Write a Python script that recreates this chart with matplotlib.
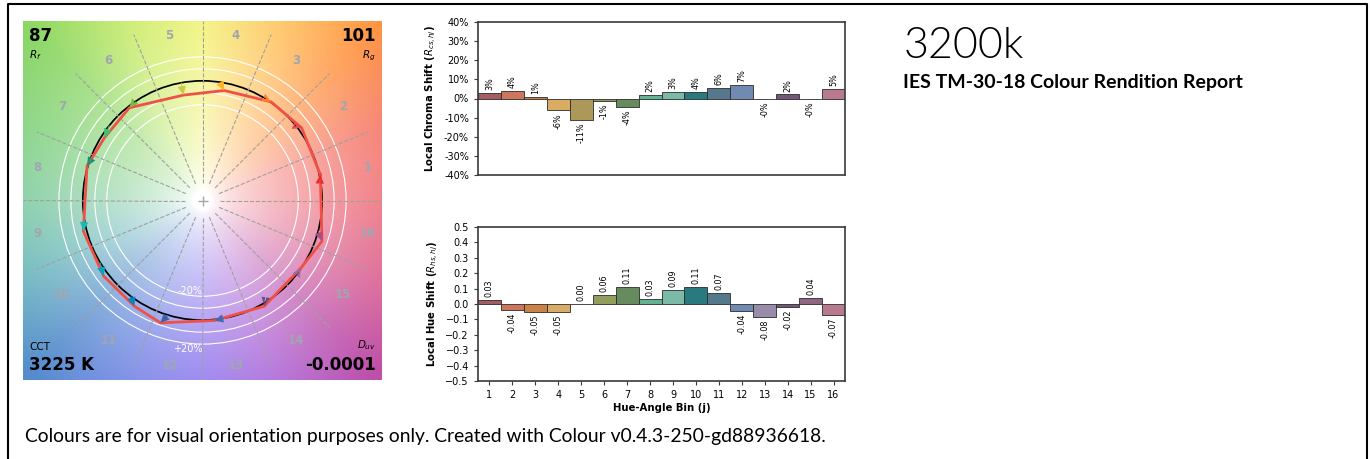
import numpy as np
import matplotlib
matplotlib.use("Agg")
import matplotlib.pyplot as plt
from matplotlib.lines import Line2D

# ---------------- data ----------------
bins = list(range(1, 17))
chroma_shift_pct = [2.96, 3.8, 0.7, -6.1, -11.0, -1.2, -4.4, 1.9, 3.3, 3.65,
                    5.7, 7.3, -0.3, 2.1, -0.3, 4.9]
hue_shift = [0.028, -0.037, -0.052, -0.052, 0.003, 0.059, 0.113, 0.033, 0.091,
             0.109, 0.072, -0.044, -0.084, -0.017, 0.039, -0.072]
reference_hue_deg = [10.7, 38.5, 58.1, 81.7, 100.3, 124.9, 141.1, 161.7, 189.2,
                     211.1, 233.2, 253.3, 280.2, 301.4, 323.3, 345.2]
test_radius = [1.008, 1.027, 1.004, 0.937, 0.895, 0.987, 0.973, 1.007, 1.028,
               1.040, 1.051, 1.081, 1.008, 1.023, 0.997, 1.055]
test_angle_deg = [12.4, 36.2, 55.2, 78.8, 100.3, 128.3, 147.4, 163.4, 194.4,
                  217.4, 237.2, 251.0, 275.6, 300.3, 325.6, 341.2]
bar_colours = ["#A35C60", "#CC765E", "#CC8145", "#D8AC62", "#AC9959", "#919E5D",
               "#668B5E", "#61B290", "#7BBAA6", "#297A7E", "#55788D", "#708AB2",
               "#988CAA", "#735877", "#8F6682", "#BA7A8E"]
arrow_colours = ["#E62828", "#E74B4B", "#FB812E", "#FFB529", "#CBCA46", "#7EB94C",
                 "#41C06D", "#009C7C", "#16BCB0", "#00A4BF", "#0085C3", "#3B62AA",
                 "#4568AE", "#6A4E85", "#9D69A1", "#A74F81"]
R_f, R_g, CCT, D_uv = 87, 101, 3225, -0.0001
title_text = "3200k"
subtitle_text = "IES TM-30-18 Colour Rendition Report"
footer_text = "Colours are for visual orientation purposes only. Created with Colour v0.4.3-250-gd88936618."

# background hue anchors (style only)
bg_angles = [0, 22, 45, 67, 90, 112, 135, 157, 180, 202, 225, 247, 270, 292, 315, 337, 360]
bg_rgb = [(238, 105, 115), (245, 115, 100), (255, 150, 70), (255, 195, 90),
          (242, 242, 110), (200, 235, 100), (140, 215, 100), (125, 208, 120),
          (120, 200, 155), (100, 180, 185), (85, 140, 205), (110, 130, 228),
          (140, 115, 238), (170, 100, 215), (190, 80, 170), (218, 92, 140),
          (238, 105, 115)]

W, H = 1370, 459
fig = plt.figure(figsize=(W / 100, H / 100), dpi=100)
fig.patch.set_facecolor("white")

# ---------------- colour vector graphic ----------------
ax = fig.add_axes([23 / W, 1 - 380 / H, 359 / W, 359 / H])
n = 360
lin = np.linspace(-1.5, 1.5, n)
X, Y = np.meshgrid(lin, lin)
ang = np.degrees(np.arctan2(Y, X)) % 360
rad = np.hypot(X, Y)
s = np.clip((rad - 0.08) / 1.95, 0, 1) ** 0.62
rgb = np.array(bg_rgb) / 255.0
img = np.zeros((n, n, 3))
for c in range(3):
    anchor = np.interp(ang, bg_angles, rgb[:, c])
    img[..., c] = 1 - s * (1 - anchor)
ax.imshow(img, extent=(-1.5, 1.5, -1.5, 1.5), origin="lower", interpolation="bilinear")

ax.plot(0, 0, "+", color="#A6A6A6", ms=7)
for i in range(16):
    a = 2 * np.pi * i / 16
    ax.plot((0.15 * np.cos(a), 1.5 * np.cos(a)), (0.15 * np.sin(a), 1.5 * np.sin(a)),
            "--", color="#A0A0A0", lw=0.8)
    a2 = 2 * np.pi * (i + 0.5) / 16
    ax.text(1.41 * np.cos(a2), 1.41 * np.sin(a2), str(bins[i]), color="#A0A6B0",
            ha="center", va="center", weight="bold", fontsize=8.5)

ax.add_artist(plt.Circle((0, 0), 1, color="black", lw=1.25, fill=False))
for r in (0.8, 0.9, 1.1, 1.2):
    ax.add_artist(plt.Circle((0, 0), r, color="white", lw=0.8, fill=False))
ax.text(0, -0.8, "-20%", ha="right", va="bottom", color="white", fontsize=7)
ax.text(0, -1.2, "+20%", ha="right", va="top", color="white", fontsize=7)

ref_h = np.radians(reference_hue_deg)
tst_h = np.radians(test_angle_deg)
xr, yr = np.cos(ref_h), np.sin(ref_h)
xt, yt = np.array(test_radius) * np.cos(tst_h), np.array(test_radius) * np.sin(tst_h)
ax.plot(np.append(xt, xt[0]), np.append(yt, yt[0]), "-", color="#F05046", lw=2, zorder=4)
for i in range(16):
    ax.arrow(xr[i], yr[i], xt[i] - xr[i], yt[i] - yr[i], length_includes_head=True,
             width=0.008, head_width=0.07, head_length=0.075, linewidth=0,
             color=arrow_colours[i], zorder=5)

ax.text(-1.45, 1.45, f"{R_f:.0f}", ha="left", va="top", fontsize=12, weight="bold")
ax.text(-1.45, 1.27, "$R_f$", ha="left", va="top", fontsize=7.5)
ax.text(1.45, 1.45, f"{R_g:.0f}", ha="right", va="top", fontsize=12, weight="bold")
ax.text(1.45, 1.27, "$R_g$", ha="right", va="top", fontsize=7.5)
ax.text(-1.45, -1.45, f"{CCT:.0f} K", ha="left", va="bottom", fontsize=12, weight="bold")
ax.text(-1.45, -1.27, "CCT", ha="left", va="bottom", fontsize=7.5)
ax.text(1.45, -1.45, f"{D_uv:.4f}", ha="right", va="bottom", fontsize=12, weight="bold")
ax.text(1.45, -1.27, "$D_{uv}$", ha="right", va="bottom", fontsize=7.5)
ax.set_xlim(-1.5, 1.5)
ax.set_ylim(-1.5, 1.5)
ax.axis("off")


# ---------------- bar charts ----------------
def style_axes(a):
    for sp in a.spines.values():
        sp.set_color("#3a3a3a")
        sp.set_linewidth(1.2)
    a.tick_params(labelsize=7, length=3, width=0.8, color="#3a3a3a")
    a.set_xlim(0.5, 16.5)


def bin_bars(a, values, fmt):
    a.bar(bins, values, width=1, color=bar_colours, edgecolor="#2b2b2b", linewidth=0.6)
    for b, v in zip(bins, values):
        if v >= 0:
            a.annotate(fmt(v), xy=(b, v), xytext=(0, 2), textcoords="offset points",
                       rotation=90, ha="center", va="bottom", fontsize=5.8)
        else:
            a.annotate(fmt(v), xy=(b, v), xytext=(0, -2), textcoords="offset points",
                       rotation=90, ha="center", va="top", fontsize=5.8)


ax1 = fig.add_axes([478 / W, 1 - 175 / H, 367 / W, 153 / H])
bin_bars(ax1, chroma_shift_pct, lambda v: f"{v:.0f}%")
style_axes(ax1)
ax1.set_ylim(-40, 40)
yt1 = list(range(-40, 41, 10))
ax1.set_yticks(yt1)
ax1.set_yticklabels([f"{t}%" for t in yt1])
ax1.set_xticks([])
ax1.set_ylabel("Local Chroma Shift ($R_{cs,hj}$)", fontsize=7.25, weight="bold")

ax2 = fig.add_axes([478 / W, 1 - 381 / H, 367 / W, 154 / H])
bin_bars(ax2, hue_shift, lambda v: f"{v:.2f}")
style_axes(ax2)
ax2.set_ylim(-0.5, 0.5)
ax2.set_yticks(np.round(np.arange(-0.5, 0.51, 0.1), 1))
ax2.set_xticks(bins)
ax2.set_xlabel("Hue-Angle Bin (j)", fontsize=7.25, weight="bold", labelpad=2)
ax2.set_ylabel("Local Hue Shift ($R_{hs,hj}$)", fontsize=7.25, weight="bold")

# ---------------- header / footer ----------------
fig.text(904 / W, 1 - 58 / H, title_text, fontsize=31, family=["Lato", "DejaVu Sans"],
         weight=300, ha="left", va="baseline", color="black")
fig.text(903 / W, 1 - 88 / H, subtitle_text, fontsize=14, family=["Lato", "DejaVu Sans"],
         weight="bold", ha="left", va="baseline")
fig.text(25 / W, 1 - 442 / H, footer_text, fontsize=13.9, family=["Lato", "DejaVu Sans"],
         ha="left", va="baseline")

# page border
x0, x1, yt_ = 7.5 / W, 1366.5 / W, 1 - 4 / H
fig.add_artist(Line2D([x0, x0, x1, x1], [-0.1, yt_, yt_, -0.1], transform=fig.transFigure,
                      color="black", lw=1.5))

fig.savefig("out.png", dpi=100, facecolor="white")
